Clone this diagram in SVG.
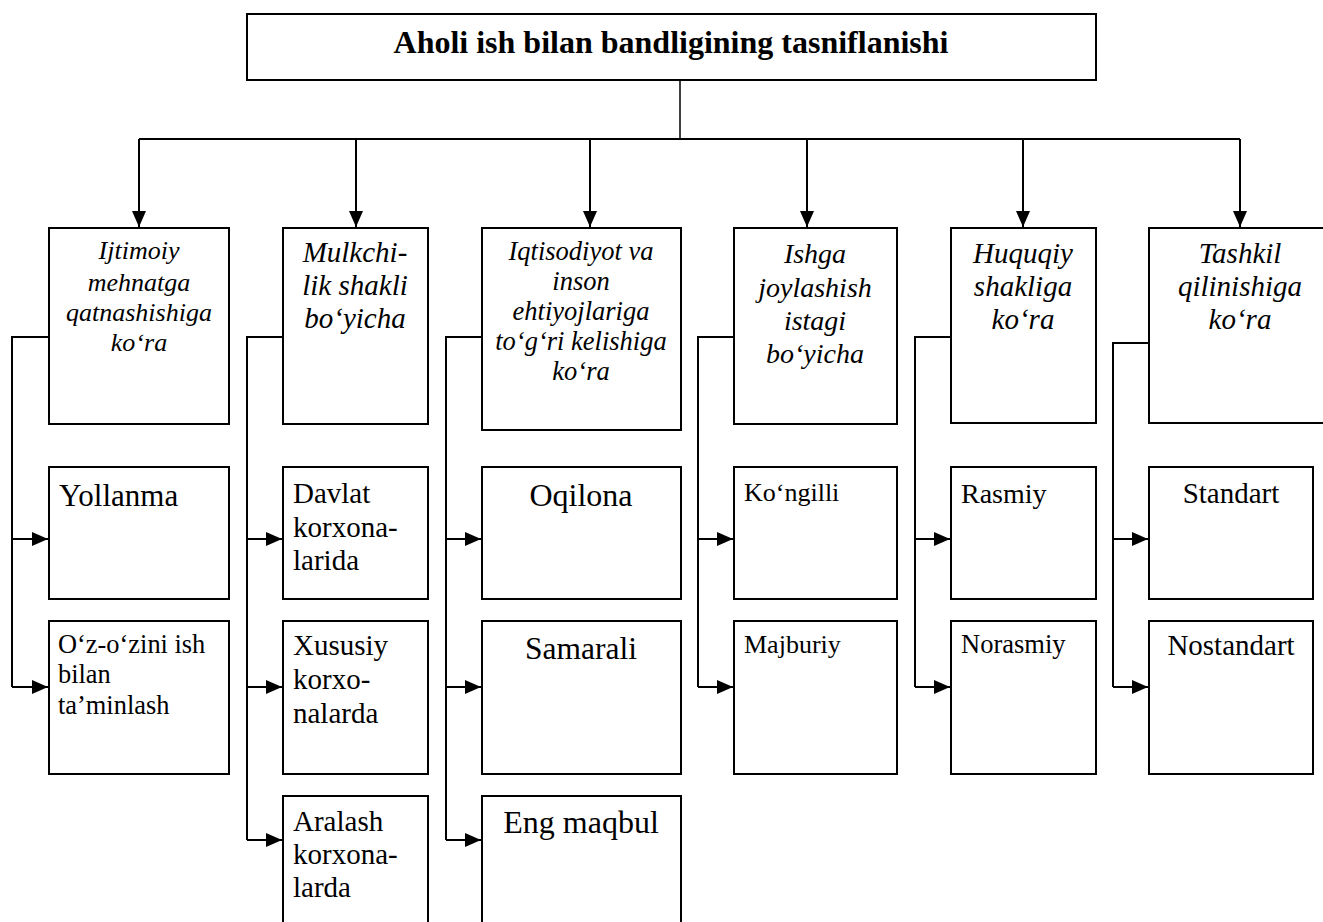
<svg xmlns="http://www.w3.org/2000/svg" width="1323" height="922" viewBox="0 0 1323 922">
  <style>
    .box { fill: #ffffff; stroke: #000000; stroke-width: 2; }
    .wire { fill: none; stroke: #000000; stroke-width: 2; }
    .thin { fill: none; stroke: #000000; stroke-width: 1.5; }
    .title { font-family: "Liberation Serif", "Times New Roman", serif; font-weight: bold; font-size: 32px; fill: #000; }
    .cat { font-family: "Liberation Serif", "Times New Roman", serif; font-style: italic; fill: #000; text-anchor: middle; }
    .leaf { font-family: "Liberation Serif", "Times New Roman", serif; fill: #000; }
    .mid { text-anchor: middle; }
  </style>
  <defs>
    <marker id="arrow" markerUnits="userSpaceOnUse" viewBox="0 0 16 14" refX="16" refY="7" markerWidth="16" markerHeight="14" orient="auto">
      <path d="M0,0 L16,7 L0,14 Z" fill="#000000"/>
    </marker>
  </defs>

  <rect width="1323" height="922" fill="#ffffff"/>

  <!-- connectors -->
  <g id="connectors">
    <!-- root to category row -->
    <path class="thin" d="M680,80 V139"/>
    <path class="wire" d="M139,139 H1240"/>
    <path class="wire" d="M139,139 V227" marker-end="url(#arrow)"/>
    <path class="wire" d="M356,139 V227" marker-end="url(#arrow)"/>
    <path class="wire" d="M590,139 V227" marker-end="url(#arrow)"/>
    <path class="wire" d="M807,139 V227" marker-end="url(#arrow)"/>
    <path class="wire" d="M1023,139 V227" marker-end="url(#arrow)"/>
    <path class="wire" d="M1240,139 V227" marker-end="url(#arrow)"/>

    <!-- category to leaves -->
    <path class="wire" d="M49,337 H12 V687"/>
    <path class="wire" d="M12,539 H48" marker-end="url(#arrow)"/>
    <path class="wire" d="M12,687 H48" marker-end="url(#arrow)"/>

    <path class="wire" d="M283,337 H247 V840"/>
    <path class="wire" d="M247,539 H282" marker-end="url(#arrow)"/>
    <path class="wire" d="M247,687 H282" marker-end="url(#arrow)"/>
    <path class="wire" d="M247,840 H282" marker-end="url(#arrow)"/>

    <path class="wire" d="M482,337 H446 V840"/>
    <path class="wire" d="M446,539 H481" marker-end="url(#arrow)"/>
    <path class="wire" d="M446,687 H481" marker-end="url(#arrow)"/>
    <path class="wire" d="M446,840 H481" marker-end="url(#arrow)"/>

    <path class="wire" d="M734,337 H698 V687"/>
    <path class="wire" d="M698,539 H733" marker-end="url(#arrow)"/>
    <path class="wire" d="M698,687 H733" marker-end="url(#arrow)"/>

    <path class="wire" d="M951,337 H915 V687"/>
    <path class="wire" d="M915,539 H950" marker-end="url(#arrow)"/>
    <path class="wire" d="M915,687 H950" marker-end="url(#arrow)"/>

    <path class="wire" d="M1149,343 H1113 V687"/>
    <path class="wire" d="M1113,539 H1148" marker-end="url(#arrow)"/>
    <path class="wire" d="M1113,687 H1148" marker-end="url(#arrow)"/>
  </g>

  <!-- root -->
  <g id="root">
    <rect class="box" x="247" y="14" width="849" height="66"/>
    <text class="title mid" x="671" y="53">Aholi ish bilan bandligining tasniflanishi</text>
  </g>

  <!-- categories -->
  <g id="cat-ijtimoiy">
    <rect class="box" x="49" y="228" width="180" height="196"/>
    <text class="cat" font-size="26" x="139"><tspan x="139" y="259">Ijtimoiy</tspan><tspan x="139" y="291">mehnatga</tspan><tspan x="139" y="321">qatnashishiga</tspan><tspan x="139" y="351">ko‘ra</tspan></text>
  </g>
  <g id="cat-mulkchilik">
    <rect class="box" x="283" y="228" width="145" height="196"/>
    <text class="cat" font-size="29"><tspan x="355" y="262">Mulkchi-</tspan><tspan x="355" y="295">lik shakli</tspan><tspan x="355" y="328">bo‘yicha</tspan></text>
  </g>
  <g id="cat-iqtisodiyot">
    <rect class="box" x="482" y="228" width="199" height="202"/>
    <text class="cat" font-size="26.5"><tspan x="581" y="260">Iqtisodiyot va</tspan><tspan x="581" y="290">inson</tspan><tspan x="581" y="320">ehtiyojlariga</tspan><tspan x="581" y="350">to‘g‘ri kelishiga</tspan><tspan x="581" y="380">ko‘ra</tspan></text>
  </g>
  <g id="cat-ishga">
    <rect class="box" x="734" y="228" width="163" height="196"/>
    <text class="cat" font-size="28"><tspan x="815" y="263">Ishga</tspan><tspan x="815" y="297">joylashish</tspan><tspan x="815" y="330">istagi</tspan><tspan x="815" y="363">bo‘yicha</tspan></text>
  </g>
  <g id="cat-huquqiy">
    <rect class="box" x="951" y="228" width="145" height="195"/>
    <text class="cat" font-size="29"><tspan x="1023" y="263">Huquqiy</tspan><tspan x="1023" y="296">shakliga</tspan><tspan x="1023" y="329">ko‘ra</tspan></text>
  </g>
  <g id="cat-tashkil">
    <rect class="box" x="1149" y="228" width="190" height="195"/>
    <text class="cat" font-size="29"><tspan x="1240" y="263">Tashkil</tspan><tspan x="1240" y="296">qilinishiga</tspan><tspan x="1240" y="329">ko‘ra</tspan></text>
  </g>

  <!-- leaves -->
  <g id="leaf-yollanma">
    <rect class="box" x="49" y="467" width="180" height="132"/>
    <text class="leaf" font-size="31" x="59" y="506">Yollanma</text>
  </g>
  <g id="leaf-ozini">
    <rect class="box" x="49" y="621" width="180" height="153"/>
    <text class="leaf" font-size="26.4"><tspan x="58" y="653">O‘z-o‘zini ish</tspan><tspan x="58" y="683">bilan</tspan><tspan x="58" y="714">ta’minlash</tspan></text>
  </g>

  <g id="leaf-davlat">
    <rect class="box" x="283" y="467" width="145" height="132"/>
    <text class="leaf" font-size="29"><tspan x="293" y="503">Davlat</tspan><tspan x="293" y="537">korxona-</tspan><tspan x="293" y="570">larida</tspan></text>
  </g>
  <g id="leaf-xususiy">
    <rect class="box" x="283" y="621" width="145" height="153"/>
    <text class="leaf" font-size="29"><tspan x="293" y="655">Xususiy</tspan><tspan x="293" y="689">korxo-</tspan><tspan x="293" y="723">nalarda</tspan></text>
  </g>
  <g id="leaf-aralash">
    <rect class="box" x="283" y="796" width="145" height="140"/>
    <text class="leaf" font-size="29"><tspan x="293" y="831">Aralash</tspan><tspan x="293" y="864">korxona-</tspan><tspan x="293" y="897">larda</tspan></text>
  </g>

  <g id="leaf-oqilona">
    <rect class="box" x="482" y="467" width="199" height="132"/>
    <text class="leaf mid" font-size="32" x="581" y="506">Oqilona</text>
  </g>
  <g id="leaf-samarali">
    <rect class="box" x="482" y="621" width="199" height="153"/>
    <text class="leaf mid" font-size="31.5" x="581" y="659">Samarali</text>
  </g>
  <g id="leaf-engmaqbul">
    <rect class="box" x="482" y="796" width="199" height="140"/>
    <text class="leaf mid" font-size="32" x="581" y="833">Eng maqbul</text>
  </g>

  <g id="leaf-kongilli">
    <rect class="box" x="734" y="467" width="163" height="132"/>
    <text class="leaf" font-size="26" x="744" y="501">Ko‘ngilli</text>
  </g>
  <g id="leaf-majburiy">
    <rect class="box" x="734" y="621" width="163" height="153"/>
    <text class="leaf" font-size="26" x="744" y="653">Majburiy</text>
  </g>

  <g id="leaf-rasmiy">
    <rect class="box" x="951" y="467" width="145" height="132"/>
    <text class="leaf" font-size="28" x="961" y="503">Rasmiy</text>
  </g>
  <g id="leaf-norasmiy">
    <rect class="box" x="951" y="621" width="145" height="153"/>
    <text class="leaf" font-size="26.5" x="961" y="653">Norasmiy</text>
  </g>

  <g id="leaf-standart">
    <rect class="box" x="1149" y="467" width="164" height="132"/>
    <text class="leaf mid" font-size="29" x="1231" y="503">Standart</text>
  </g>
  <g id="leaf-nostandart">
    <rect class="box" x="1149" y="621" width="164" height="153"/>
    <text class="leaf mid" font-size="29" x="1231" y="655">Nostandart</text>
  </g>
</svg>
